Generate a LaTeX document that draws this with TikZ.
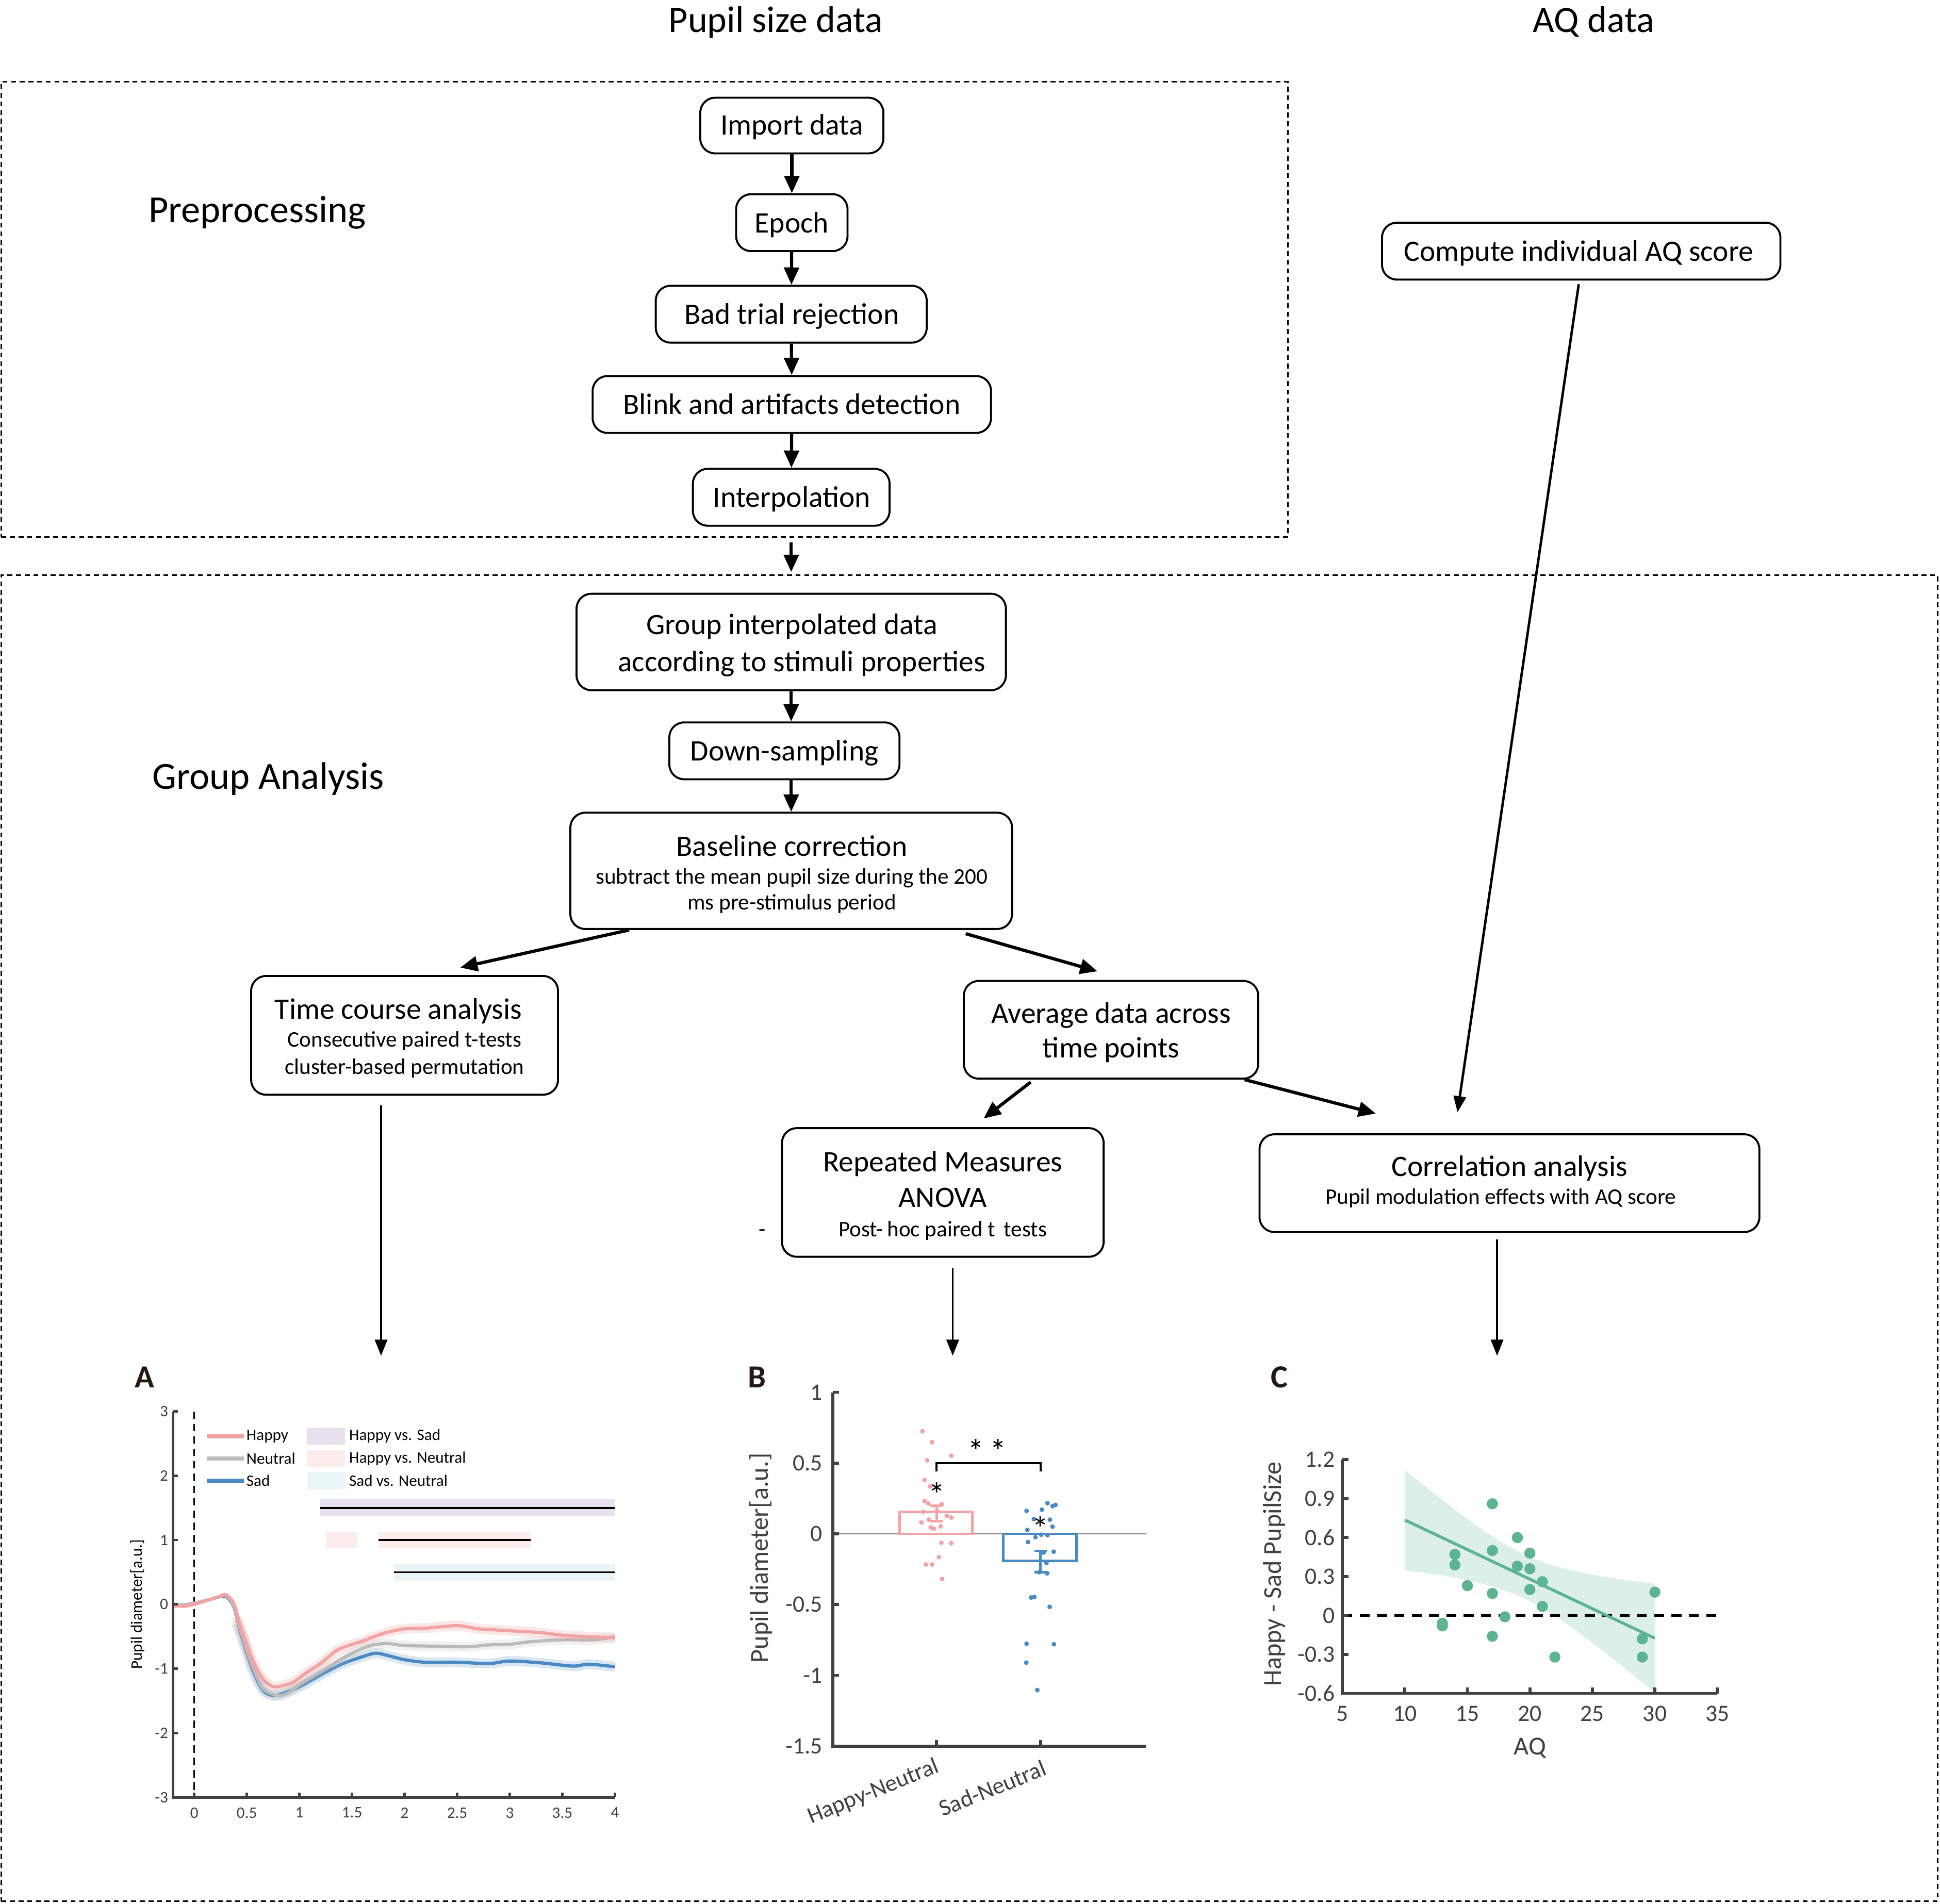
\documentclass[tikz,border=0pt]{standalone}
\usepackage{fontspec}
\setmainfont{Carlito}
\usetikzlibrary{arrows.meta,calc}
\definecolor{hapC}{HTML}{F2A3A3}
\definecolor{neuC}{HTML}{BBBBBB}
\definecolor{sadC}{HTML}{4A89C4}
\definecolor{lavC}{HTML}{E6E0EF}
\definecolor{pnkC}{HTML}{FCECEC}
\definecolor{cyaC}{HTML}{EAF5F5}
\definecolor{grnC}{HTML}{5DB491}
\definecolor{grnB}{HTML}{DDF0E8}
\definecolor{axC}{HTML}{404040}
\definecolor{letC}{HTML}{231815}
\newcommand{\myfs}[1]{\fontsize{#1}{#1}\selectfont}
\begin{document}
\begin{tikzpicture}[x=1pt,y=-1pt,
  box/.style={draw, line width=1.6pt, rounded corners=12pt, inner sep=0pt},
  dbox/.style={draw, line width=1.2pt, dash pattern=on 4pt off 3pt, inner sep=0pt},
  tt/.style={font=\myfs{24}, inner sep=0pt, anchor=base},
  ts/.style={font=\myfs{18}, inner sep=0pt, anchor=base},
  hd/.style={font=\myfs{31}, inner sep=0pt, anchor=base west},
  arr/.style={line width=2.6pt, -{Triangle[length=14pt,width=12pt]}},
  tarr/.style={line width=1.6pt, -{Triangle[length=13pt,width=10pt]}},
  tkA/.style={font=\myfs{13}, text=axC, inner sep=0pt},
  tkB/.style={font=\myfs{19}, text=axC, inner sep=0pt},
  letter/.style={font=\bfseries\myfs{26}, text=letC, inner sep=0pt, anchor=base}
]
\fill[white] (0,0) rectangle (1568,1539);
\useasboundingbox (0,0) rectangle (1568,1539);

% ---------- frames and headings ----------
\node[dbox, minimum width=1040pt, minimum height=368pt] (preB) at (521,250) {};
\node[dbox, minimum width=1565pt, minimum height=1072pt] (grpB) at (783.5,1001) {};
\node[font=\myfs{30}, inner sep=0pt, anchor=base] (tPup) at (627,26) {Pupil size data};
\node[font=\myfs{30}, inner sep=0pt, anchor=base] (tAQ) at (1288,26) {AQ data};
\node[hd] (tPre) at (120,180) {Preprocessing};
\node[hd] (tGrp) at (123,638) {Group Analysis};

% ---------- boxes ----------
\node[box, minimum width=148pt, minimum height=45pt] (imp) at (640,101.5) {};
\node[tt] (impT) at (640,109) {Import data};
\node[box, minimum width=90pt, minimum height=46pt] (epo) at (640,180) {};
\node[tt] (epoT) at (640,188) {Epoch};
\node[box, minimum width=219pt, minimum height=46pt] (bad) at (639.5,254) {};
\node[tt] (badT) at (640,262) {Bad trial rejection};
\node[box, minimum width=322pt, minimum height=46pt] (bli) at (640,327) {};
\node[tt] (bliT) at (640,335) {Blink and artifacts detection};
\node[box, minimum width=159pt, minimum height=46pt] (itp) at (639.5,402) {};
\node[tt] (itpT) at (640,410) {Interpolation};

\node[box, minimum width=322pt, minimum height=46pt] (aqb) at (1278,203) {};
\node[tt] (aqbT) at (1276,211) {Compute individual AQ score};

\node[box, minimum width=347pt, minimum height=78pt] (grp) at (639.5,519) {};
\node[tt] (grpT1) at (640,513) {Group interpolated data};
\node[tt] (grpT2) at (648,543) {according to stimuli properties};
\node[box, minimum width=186pt, minimum height=46pt] (dwn) at (634,607) {};
\node[tt] (dwnT) at (634,615) {Down-sampling};
\node[box, minimum width=357pt, minimum height=94pt] (bas) at (639.5,704) {};
\node[tt] (basT1) at (640,692) {Baseline correction};
\node[ts] (basT2) at (640,714.5) {subtract the mean pupil size during the 200};
\node[ts] (basT3) at (640,735.5) {ms pre-stimulus period};
\node[box, minimum width=248pt, minimum height=96pt] (tca) at (327,837) {};
\node[tt] (tcaT1) at (322,824) {Time course analysis};
\node[ts] (tcaT2) at (327,846.5) {Consecutive paired t-tests};
\node[ts] (tcaT3) at (327,868.5) {cluster-based permutation};
\node[box, minimum width=238pt, minimum height=79pt] (avg) at (898,832.5) {};
\node[tt] (avgT1) at (898,827) {Average data across};
\node[tt] (avgT2) at (898,855) {time points};
\node[box, minimum width=260pt, minimum height=104pt] (rma) at (762,964) {};
\node[tt] (rmaT1) at (762,947) {Repeated Measures};
\node[tt] (rmaT2) at (762,976) {ANOVA};
\node[ts] (rmaT3) at (762,999.5) {Post-\,hoc paired t\, tests};
\node[ts] (stray) at (616,999.5) {-};
\node[box, minimum width=404pt, minimum height=79pt] (cor) at (1220,956.5) {};
\node[tt] (corT1) at (1220,951) {Correlation analysis};
\node[ts] (corT2) at (1213,973.5) {Pupil modulation effects with AQ score};

% ---------- connectors ----------
\draw[arr] (imp) -- (epo);
\draw[arr] (epo) -- (bad);
\draw[arr] (bad) -- (bli);
\draw[arr] (bli) -- (itp);
\draw[arr, shorten <=4pt, shorten >=2pt] (itp.south |- preB.south) -- (itp.south |- grpB.north);
\draw[arr] (grp.south) -- (grp.south |- dwn.north);
\draw[arr] (bas.north |- dwn.south) -- (bas.north);
\draw[arr] ($(bas.south)+(-131,0)$) -- ($(tca.north)+(45,-6)$);
\draw[arr] ($(bas.south)+(141,3)$) -- ($(avg.north)+(-11,-7)$);
\draw[arr] ($(avg.south)+(-65,2)$) -- ($(rma.north)+(33,-7)$);
\draw[arr] ($(avg.south)+(108,0)$) -- ($(cor.north)+(-108,-16)$);
\draw[tarr, line width=2pt] ($(aqb.south)+(-2,3)$) -- ($(cor.north)+(-42,-17)$);
\coordinate (Atop) at (308,1096);
\coordinate (Btop) at (770,1096);
\coordinate (Ctop) at (1210,1096);
\draw[tarr] (tca.south -| Atop) ++(0,8) -- (Atop);
\draw[tarr] (rma.south -| Btop) ++(0,8) -- (Btop);
\draw[tarr] (cor.south -| Ctop) ++(0,5) -- (Ctop);

% ---------- panel letters ----------
\node[letter] (lA) at (117,1122) {A};
\node[letter] (lB) at (612,1122) {B};
\node[letter] (lC) at (1034,1122) {C};

% ---------- plot A ----------
\begin{scope}[shift={(157,1297)}, x=85pt, y=52pt]
  \fill[lavC] (1.2,1.37) rectangle (4,1.63);
  \fill[pnkC] (1.25,0.87) rectangle (1.55,1.13);
  \fill[pnkC] (1.75,0.87) rectangle (3.2,1.13);
  \fill[cyaC] (1.9,0.37) rectangle (4,0.63);
  \draw[line width=1.5pt] (1.2,1.5) -- (4,1.5);
  \draw[line width=1.5pt] (1.75,1) -- (3.2,1);
  \draw[line width=1.5pt] (1.9,0.5) -- (4,0.5);
  \draw[line width=1.4pt, dash pattern=on 6pt off 4pt] (0,3) -- (0,-3);
  % sad
  \draw[sadC, opacity=0.2, line width=8pt, line join=round] plot[smooth, tension=0.5] coordinates {(0.4,-0.3) (0.45,-0.5) (0.55,-1.0) (0.65,-1.33) (0.75,-1.42) (0.85,-1.38) (1.0,-1.28) (1.2,-1.1) (1.4,-0.93) (1.55,-0.84) (1.72,-0.76) (1.85,-0.8) (2.0,-0.86) (2.2,-0.9) (2.5,-0.9) (2.8,-0.92) (3.0,-0.88) (3.3,-0.91) (3.6,-0.96) (3.75,-0.93) (4.0,-0.97)};
  \draw[sadC, line width=2.6pt, line join=round] plot[smooth, tension=0.5] coordinates {(-0.2,-0.02) (0,0.01) (0.2,0.1) (0.28,0.13) (0.32,0.1) (0.38,-0.06) (0.45,-0.5) (0.55,-1.0) (0.65,-1.33) (0.75,-1.42) (0.85,-1.38) (1.0,-1.28) (1.2,-1.1) (1.4,-0.93) (1.55,-0.84) (1.72,-0.76) (1.85,-0.8) (2.0,-0.86) (2.2,-0.9) (2.5,-0.9) (2.8,-0.92) (3.0,-0.88) (3.3,-0.91) (3.6,-0.96) (3.75,-0.93) (4.0,-0.97)};
  % neutral
  \draw[neuC, opacity=0.2, line width=8pt, line join=round] plot[smooth, tension=0.5] coordinates {(0.4,-0.25) (0.45,-0.45) (0.55,-0.95) (0.65,-1.3) (0.75,-1.4) (0.82,-1.42) (0.9,-1.37) (1.0,-1.25) (1.2,-1.05) (1.4,-0.85) (1.55,-0.72) (1.7,-0.63) (1.85,-0.61) (2.0,-0.64) (2.3,-0.65) (2.6,-0.66) (2.8,-0.63) (3.0,-0.62) (3.2,-0.58) (3.5,-0.55) (3.8,-0.55) (4.0,-0.5)};
  \draw[neuC, line width=2.6pt, line join=round] plot[smooth, tension=0.5] coordinates {(-0.2,-0.03) (0,0.02) (0.2,0.1) (0.28,0.14) (0.32,0.12) (0.38,-0.05) (0.45,-0.45) (0.55,-0.95) (0.65,-1.3) (0.75,-1.4) (0.82,-1.42) (0.9,-1.37) (1.0,-1.25) (1.2,-1.05) (1.4,-0.85) (1.55,-0.72) (1.7,-0.63) (1.85,-0.61) (2.0,-0.64) (2.3,-0.65) (2.6,-0.66) (2.8,-0.63) (3.0,-0.62) (3.2,-0.58) (3.5,-0.55) (3.8,-0.55) (4.0,-0.5)};
  % happy
  \draw[hapC, opacity=0.25, line width=8pt, line join=round] plot[smooth, tension=0.5] coordinates {(0.4,-0.2) (0.45,-0.4) (0.55,-0.85) (0.65,-1.15) (0.75,-1.28) (0.85,-1.26) (0.95,-1.2) (1.05,-1.08) (1.2,-0.92) (1.35,-0.72) (1.45,-0.65) (1.6,-0.57) (1.8,-0.45) (2.0,-0.38) (2.2,-0.37) (2.5,-0.33) (2.7,-0.38) (2.9,-0.4) (3.1,-0.42) (3.3,-0.44) (3.5,-0.48) (3.7,-0.5) (4.0,-0.52)};
  \draw[hapC, line width=2.6pt, line join=round] plot[smooth, tension=0.5] coordinates {(-0.2,-0.02) (-0.1,-0.03) (0,0.0) (0.1,0.05) (0.2,0.1) (0.28,0.15) (0.32,0.13) (0.38,0.0) (0.45,-0.4) (0.55,-0.85) (0.65,-1.15) (0.75,-1.28) (0.85,-1.26) (0.95,-1.2) (1.05,-1.08) (1.2,-0.92) (1.35,-0.72) (1.45,-0.65) (1.6,-0.57) (1.8,-0.45) (2.0,-0.38) (2.2,-0.37) (2.5,-0.33) (2.7,-0.38) (2.9,-0.4) (3.1,-0.42) (3.3,-0.44) (3.5,-0.48) (3.7,-0.5) (4.0,-0.52)};
  % axes
  \draw[axC, line width=2pt] (-0.2,3) -- (-0.2,-3) -- (4,-3);
  \foreach \v [count=\i] in {-3,-2,-1,0,1,2,3} {
    \draw[axC, line width=2pt] (-0.2,\v) -- ++(4pt,0);
    \node[tkA, anchor=east, name=yA\i] at ([xshift=-4pt]-0.2,\v) {\v};
  }
  \foreach \t/\l [count=\i] in {0/0,0.5/0.5,1/1,1.5/1.5,2/2,2.5/2.5,3/3,3.5/3.5,4/4} {
    \draw[axC, line width=2pt] (\t,-3) -- ++(0,4pt);
    \node[tkA, anchor=north, name=xA\i] at ([yshift=-8pt]\t,-3) {\l};
  }
  \node[tkA, text=black, rotate=90] (ylA) at ([xshift=-29pt]-0.2,0) {Pupil diameter[a.u.]};
\end{scope}
% legend A
\draw[hapC, line width=3.5pt] (167,1161) -- (197,1161);
\draw[neuC, line width=3.5pt] (167,1179) -- (197,1179);
\draw[sadC, line width=3.5pt] (167,1197) -- (197,1197);
\node[tkA, text=black, anchor=west] (lgH) at (199,1161) {Happy};
\node[tkA, text=black, anchor=west] (lgN) at (199,1179) {Neutral};
\node[tkA, text=black, anchor=west] (lgS) at (199,1197) {Sad};
\fill[lavC] (248,1154) rectangle (279,1168);
\fill[pnkC] (248,1172) rectangle (279,1186);
\fill[cyaC] (248,1190) rectangle (279,1204);
\node[tkA, text=black, anchor=west] (lgHS) at (282,1161) {Happy vs. Sad};
\node[tkA, text=black, anchor=west] (lgHN) at (282,1179) {Happy vs. Neutral};
\node[tkA, text=black, anchor=west] (lgSN) at (282,1197) {Sad vs. Neutral};

% ---------- plot B ----------
\begin{scope}[shift={(757,1240)}, x=1pt, y=114.4pt]
  \draw[gray, line width=0.8pt] (-84,0) -- (169,0);
  \foreach \a/\b in {-11.5/0.725, -3.7/0.648, -7.6/0.52, 11.9/0.552, -9.7/0.38, -5.4/0.335, -9.7/0.232, -6.7/0.215, 4.1/0.209, -10.6/0.156, 0.6/0.16, 8.2/0.128, 11.9/0.115, -6.3/0.1, -12.3/0.081, 3.2/0.053, -4.8/0.045, -2.2/0.036, 3.9/-0.062, 11.9/-0.066, 1.9/-0.164, -8.7/-0.217, -3.7/-0.217, 4.5/-0.318}
    \fill[hapC] (\a,\b) circle (1.9pt);
  \foreach \a/\b in {89.6/0.217, 96.1/0.205, 93.7/0.196, 72.7/0.162, 85.1/0.171, 78.6/0.104, 91.6/0.1, 93.7/0.051, 73.4/0.028, 79.9/-0.023, 84.6/-0.006, 89.6/-0.009, 73.8/-0.058, 94.6/-0.126, 86.4/-0.132, 88.8/-0.205, 82.9/-0.271, 89.4/-0.279, 76.4/-0.45, 79/-0.446, 91.4/-0.516, 72.7/-0.776, 94.8/-0.78, 72.5/-0.91, 81.4/-1.104}
    \fill[sadC] (\a,\b) circle (1.9pt);
  \draw[hapC, line width=2pt] (-30,0) rectangle (29,0.155);
  \draw[sadC, line width=2pt] (54,0) rectangle (113,-0.19);
  \draw[hapC, line width=2pt] (0,0.09) -- (0,0.2) (-5,0.09) -- (5,0.09) (-5,0.2) -- (5,0.2);
  \draw[sadC, line width=2pt] (84,-0.12) -- (84,-0.27) (79,-0.12) -- (89,-0.12) (79,-0.27) -- (89,-0.27);
  \draw[line width=1.8pt] (0,0.44) -- (0,0.5) -- (84,0.5) -- (84,0.44);
  \node[font=\myfs{27}, inner sep=0pt] (sigB) at (41,0.585) {*\,*};
  \node[font=\myfs{27}, inner sep=0pt] (sigH) at (0,0.28) {*};
  \node[font=\myfs{27}, inner sep=0pt] (sigS) at (84,0.04) {*};
  \draw[axC, line width=2.4pt] (-84,1) -- (-84,-1.5) -- (169,-1.5);
  \foreach \v/\l [count=\i] in {1/1,0.5/0.5,0/0,-0.5/-0.5,-1/-1,-1.5/-1.5} {
    \draw[axC, line width=2.4pt] (-84,\v) -- ++(5pt,0);
    \node[tkB, anchor=east, name=yB\i] at ([xshift=-8pt]-84,\v) {\l};
  }
  \draw[axC, line width=2.4pt] (0,-1.5) -- ++(0,5pt) (84,-1.5) -- ++(0,5pt);
  \node[tkB, rotate=22] (cB1) at ([xshift=-51pt,yshift=-37pt]0,-1.5) {Happy-Neutral};
  \node[tkB, rotate=22] (cB2) at ([xshift=-39pt,yshift=-34pt]84,-1.5) {Sad-Neutral};
  \node[font=\myfs{21}, text=axC, inner sep=0pt, rotate=90] (ylB) at ([xshift=-142pt]0,-0.17) {Pupil diameter[a.u.]};
\end{scope}

% ---------- plot C ----------
\begin{scope}[shift={(1034.5,1306)}, x=10.1pt, y=105pt]
  \begin{scope}
    \clip (5,-0.6) rectangle (35,1.3);
    \fill[grnB] plot[domain=10:30, samples=41] (\x, {0.735-0.0455*(\x-10)+sqrt(0.0289+0.00132*(\x-19.5)^2)}) -- plot[domain=30:10, samples=41] (\x, {0.735-0.0455*(\x-10)-sqrt(0.0289+0.00132*(\x-19.5)^2)}) -- cycle;
  \end{scope}
  \draw[line width=2.4pt, dash pattern=on 8pt off 6pt] (5,0) -- (35,0);
  \draw[grnC, line width=2.4pt] (10,0.735) -- (30,-0.175);
  \foreach \a/\b in {17/0.86, 19/0.6, 17/0.5, 14/0.47, 20/0.48, 14/0.39, 19/0.38, 20/0.36, 21/0.26, 15/0.23, 20/0.2, 17/0.17, 21/0.07, 18/-0.01, 13/-0.06, 13/-0.08, 17/-0.16, 22/-0.32, 29/-0.18, 29/-0.32, 30/0.18}
    \fill[grnC] (\a,\b) circle (4.5pt);
  \draw[axC, line width=2.4pt] (5,1.2) -- (5,-0.6) -- (35,-0.6);
  \foreach \v/\l [count=\i] in {1.2/1.2,0.9/0.9,0.6/0.6,0.3/0.3,0/0,-0.3/-0.3,-0.6/-0.6} {
    \draw[axC, line width=2.4pt] (5,\v) -- ++(5pt,0);
    \node[tkB, anchor=east, name=yC\i] at ([xshift=-6pt]5,\v) {\l};
  }
  \foreach \t [count=\i] in {5,10,15,20,25,30,35} {
    \draw[axC, line width=2.4pt] (\t,-0.6) -- ++(0,5pt);
    \node[tkB, anchor=north, name=xC\i] at ([yshift=-10pt]\t,-0.6) {\t};
  }
  \node[font=\myfs{21}, text=axC, inner sep=0pt] (xlC) at ([yshift=-44pt]20,-0.6) {AQ};
  \node[font=\myfs{21}, text=axC, inner sep=0pt, rotate=90] (ylC) at ([xshift=-55pt]5,0.32) {Happy - Sad PupilSize};
\end{scope}
\end{tikzpicture}
\end{document}
